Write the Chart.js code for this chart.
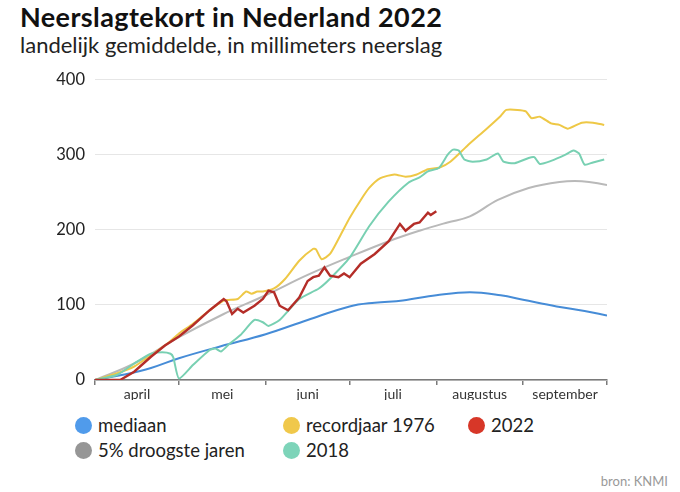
<!DOCTYPE html>
<html>
<head>
<meta charset="utf-8">
<script src="https://cdn.jsdelivr.net/npm/chart.js@4"></script>
<style>
  body { margin: 0; width: 680px; height: 492px; background: #fff; position: relative; font-family: Lato, sans-serif; color: #111; overflow: hidden; }
  h1 { position: absolute; left: 20px; top: 0px; margin: 0; font-size: 27px; line-height: 34px; font-weight: 700; letter-spacing: 0.4px; }
  h2 { position: absolute; left: 20px; top: 31px; margin: 0; font-size: 22px; line-height: 28px; font-weight: 400; color: #222; }
  #chart { position: absolute; left: 40px; top: 60px; }
  .leg { position: absolute; display: flex; align-items: center; height: 20px; font-size: 18.5px; color: #222; white-space: nowrap; }
  .leg span { display: inline-block; width: 17px; height: 17px; border-radius: 50%; margin-right: 6px; }
  #bron { position: absolute; right: 12px; top: 473px; font-size: 13px; color: #999; }
</style>
</head>
<body>
<h1>Neerslagtekort in Nederland 2022</h1>
<h2>landelijk gemiddelde, in millimeters neerslag</h2>
<canvas id="chart" width="580" height="340"></canvas>
<div id="legend"></div>
<div id="bron">bron: KNMI</div>
<script>
// days counted from 1 april
const monthNames = ['april', 'mei', 'juni', 'juli', 'augustus', 'september'];
const monthStarts = [0, 30, 61, 91, 122, 153, 183];

const medianDays = [0, 10, 20, 30, 45, 61, 76, 91, 100, 110, 122, 134, 145, 153, 165, 175, 183];
const medianValues = [0, 7, 16, 29, 45, 61, 80, 98, 103, 106, 113, 117, 113, 107, 98, 92, 86];

const dryDays = [0, 14, 30, 46, 61, 76, 91, 105, 116, 126, 134, 144, 155, 166, 174, 183];
const dryValues = [0, 22, 57, 88, 113, 140, 164, 185, 199, 210, 218, 240, 256, 264, 265, 260];

const y1976Days = [0, 8, 14, 20, 26, 30, 35, 41, 46, 51, 54, 56, 58, 60, 64, 68, 73, 78, 79, 81, 84, 88, 91, 95, 98, 102, 107, 111, 115, 119, 123, 127, 133, 140, 145, 147, 151, 154, 156, 159, 163, 166, 169, 174, 178, 182];
const y1976Values = [0, 9, 18, 33, 49, 62, 75, 93, 106, 108, 118, 115, 118, 118, 122, 135, 159, 175, 174, 161, 168, 195, 216, 240, 256, 269, 274, 271, 274, 281, 283, 291, 312, 335, 352, 360, 360, 358, 349, 351, 342, 340, 335, 343, 343, 340];

const y2018Days = [0, 8, 14, 20, 24, 27, 28, 30, 35, 41, 43, 45, 48, 52, 57, 60, 62, 66, 73, 80, 84, 91, 98, 105, 112, 116, 119, 123, 126, 128, 130, 132, 135, 140, 144, 146, 150, 155, 157, 159, 163, 168, 171, 173, 175, 178, 182];
const y2018Values = [0, 7, 22, 35, 37, 35, 30, 2, 20, 40, 42, 38, 48, 60, 80, 77, 72, 80, 108, 122, 135, 163, 205, 238, 263, 270, 278, 283, 300, 307, 306, 294, 291, 294, 302, 291, 289, 296, 297, 288, 292, 300, 306, 302, 287, 290, 294];

const y2022Days = [0, 9, 14, 20, 25, 30, 35, 41, 46, 47, 49, 51, 53, 57, 60, 62, 64, 66, 69, 73, 76, 78, 80, 82, 84, 87, 89, 91, 95, 100, 105, 109, 111, 114, 116, 119, 120, 122];
const y2022Values = [0, 0, 11, 31, 46, 58, 73, 93, 108, 105, 88, 95, 90, 99, 108, 119, 117, 99, 93, 110, 132, 137, 139, 150, 139, 137, 142, 137, 155, 168, 185, 208, 199, 208, 210, 223, 220, 225];

const yTicks = [0, 100, 200, 300, 400];

function points(days, values) {
  return days.map((d, i) => ({ x: d, y: values[i] }));
}

const series = [
  { label: 'mediaan', days: medianDays, values: medianValues, line: 'rgb(70, 140, 215)', dot: 'rgb(80, 155, 235)', tension: 0.4, order: 4 },
  { label: '5% droogste jaren', days: dryDays, values: dryValues, line: 'rgb(185, 185, 185)', dot: 'rgb(150, 150, 150)', tension: 0.4, order: 3 },
  { label: 'recordjaar 1976', days: y1976Days, values: y1976Values, line: 'rgb(238, 200, 70)', dot: 'rgb(240, 200, 75)', tension: 0.2, order: 2 },
  { label: '2018', days: y2018Days, values: y2018Values, line: 'rgb(120, 208, 178)', dot: 'rgb(125, 212, 185)', tension: 0.2, order: 1 },
  { label: '2022', days: y2022Days, values: y2022Values, line: 'rgb(180, 45, 40)', dot: 'rgb(215, 55, 40)', tension: 0, order: 0 },
];

const ctx = document.getElementById('chart').getContext('2d');
const chart = new Chart(ctx, {
  type: 'line',
  data: {
    datasets: series.map(s => ({
      label: s.label,
      data: points(s.days, s.values),
      borderColor: s.line,
      borderWidth: s.label === '2022' ? 2.4 : 2,
      pointRadius: 0,
      tension: s.tension,
      order: s.order,
      fill: false,
    })),
  },
  options: {
    responsive: false,
    animation: false,
    layout: { padding: { top: 18, right: 13, left: 0, bottom: 0 } },
    plugins: {
      legend: { display: false },
      tooltip: { enabled: false },
    },
    scales: {
      x: {
        type: 'linear',
        min: 0,
        max: 183,
        afterBuildTicks: (scale) => {
          const vals = [];
          monthStarts.forEach((m, i) => {
            vals.push(m);
            if (i < monthNames.length) vals.push((m + monthStarts[i + 1]) / 2);
          });
          scale.ticks = vals.map(v => ({ value: v }));
        },
        afterFit: (scale) => { scale.height = 20; },
        border: { display: true, color: '#7a7a7a', width: 1.5 },
        grid: {
          drawOnChartArea: false,
          drawTicks: true,
          tickLength: 5,
          color: (c) => monthStarts.includes(c.tick && c.tick.value) ? '#7a7a7a' : 'rgba(0,0,0,0)',
          lineWidth: 1.5,
        },
        ticks: {
          autoSkip: false,
          maxRotation: 0,
          padding: 1,
          color: '#333',
          font: { family: 'Lato', size: 14 },
          callback: (v) => {
            const i = monthStarts.findIndex((m, k) => k < monthNames.length && (m + monthStarts[k + 1]) / 2 === v);
            return i >= 0 ? monthNames[i] : '';
          },
        },
      },
      y: {
        min: 0,
        max: 400,
        afterBuildTicks: (scale) => { scale.ticks = yTicks.map(v => ({ value: v })); },
        afterFit: (scale) => { scale.width = 55; },
        border: { display: false },
        grid: { color: '#e6e6e6', lineWidth: 1, drawTicks: false },
        ticks: {
          padding: 10,
          color: '#222',
          font: { family: 'Lato', size: 16.5 },
        },
      },
    },
  },
});

// legend in two rows, three columns like the original
const legendPos = {
  'mediaan': [75, 415],
  '5% droogste jaren': [75, 440],
  'recordjaar 1976': [283, 415],
  '2018': [283, 440],
  '2022': [468, 415],
};
const legend = document.getElementById('legend');
series.forEach(s => {
  const el = document.createElement('div');
  el.className = 'leg';
  el.style.left = legendPos[s.label][0] + 'px';
  el.style.top = legendPos[s.label][1] + 'px';
  el.innerHTML = '<span style="background:' + s.dot + '"></span>' + s.label;
  legend.appendChild(el);
});
</script>
</body>
</html>
